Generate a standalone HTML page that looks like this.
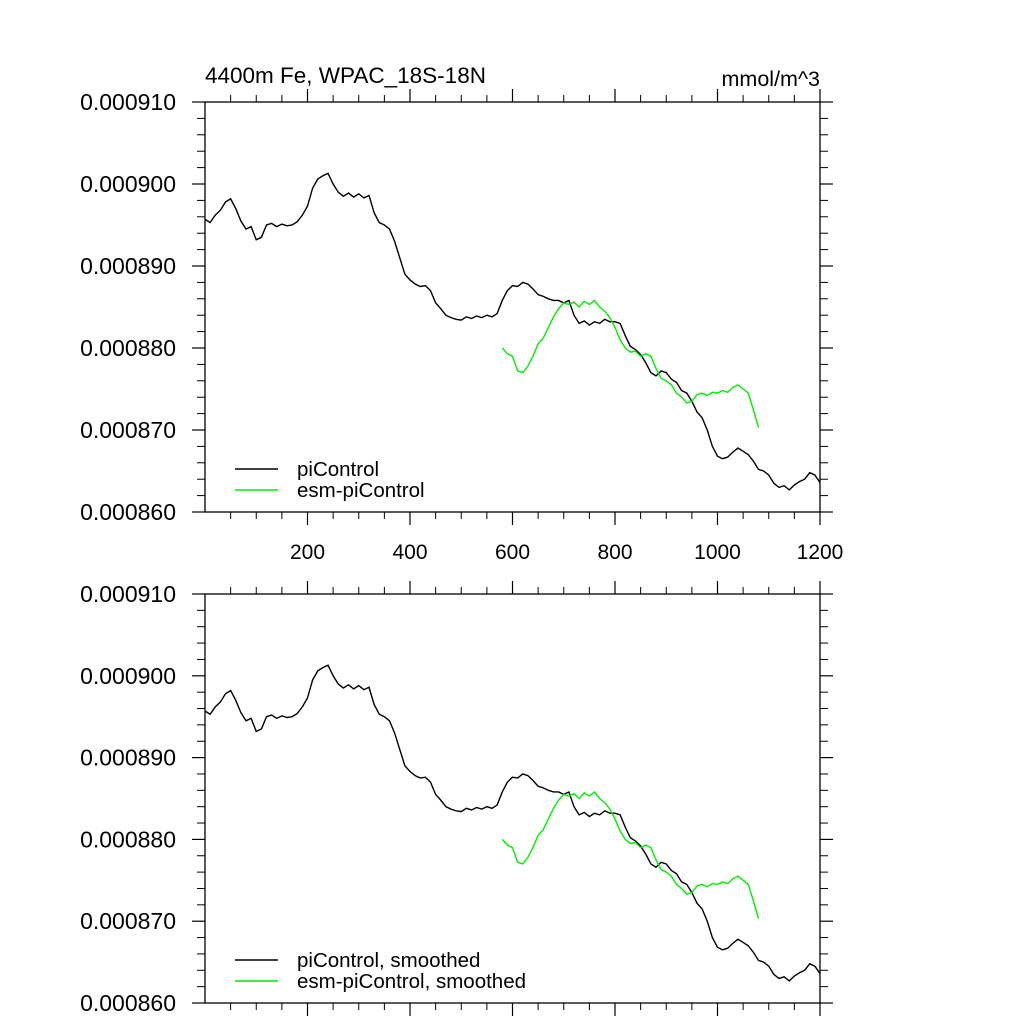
<!DOCTYPE html>
<html><head><meta charset="utf-8"><style>
html,body{margin:0;padding:0;background:#fff;}
svg{display:block;font-family:"Liberation Sans",sans-serif;}
</style></head><body>
<svg id="chart" width="1024" height="1024" viewBox="0 0 1024 1024" xmlns="http://www.w3.org/2000/svg">
<text x="205" y="83" font-size="22.5">4400m Fe, WPAC_18S-18N</text>
<text x="820" y="86" font-size="21.5" text-anchor="end">mmol/m^3</text>
</svg>
<script>
const piStartYear=0;
const piValues=[895.7,895.3,896.2,896.8,897.8,898.2,897.0,895.5,894.5,894.8,893.2,893.5,895.0,895.2,894.8,895.1,894.9,895.0,895.4,896.2,897.3,899.5,900.6,901.0,901.3,900.0,899.0,898.5,898.9,898.4,898.8,898.3,898.6,896.5,895.3,895.0,894.5,893.0,891.0,889.0,888.3,887.8,887.5,887.6,887.0,885.5,884.8,884.0,883.7,883.5,883.4,883.8,883.6,883.9,883.7,884.0,883.8,884.2,885.8,887.0,887.6,887.5,888.0,887.8,887.2,886.5,886.3,886.0,885.8,885.8,885.5,885.8,884.0,883.0,883.3,882.8,883.2,883.0,883.5,883.2,883.2,883.0,881.5,880.2,879.8,879.2,878.2,877.0,876.6,877.2,877.0,876.2,875.8,874.8,874.5,873.5,872.2,871.5,870.0,868.0,866.8,866.5,866.7,867.3,867.8,867.4,867.0,866.2,865.2,865.0,864.5,863.5,863.0,863.2,862.7,863.3,863.7,864.0,864.8,864.5,863.6];
const esmStartYear=580;
const esmValues=[880.0,879.3,879.0,877.2,877.0,877.8,879.0,880.5,881.2,882.5,883.8,884.8,885.5,885.3,885.6,885.0,885.7,885.3,885.8,885.0,884.5,883.7,882.5,881.0,880.0,879.5,879.6,879.0,879.3,879.0,877.5,876.3,876.0,875.5,874.5,874.0,873.3,873.5,874.3,874.5,874.2,874.6,874.5,874.8,874.6,875.2,875.5,875.0,874.5,872.5,870.3];
const yearStep=10;
const piSmoothValues=piValues.slice();
const esmSmoothValues=esmValues.slice();
const xTicks=[200,400,600,800,1000,1200];
const yTicks=[860,870,880,890,900,910];
const yTickLabels=["0.000860","0.000870","0.000880","0.000890","0.000900","0.000910"];

const svg=document.getElementById('chart');
const NS='http://www.w3.org/2000/svg';
function mk(tag,attrs){const e=document.createElementNS(NS,tag);for(const k in attrs)e.setAttribute(k,attrs[k]);svg.appendChild(e);return e;}
const L=205,R=820;
const xs=v=>L+(v/1200)*(R-L);

function panel(top,bottom,pv,ev,showX,legend,idx){
  const ys=v=>bottom-(v-860)/50*(bottom-top);
  for(let v=50;v<1200;v+=50){ if(v%200===0) continue;
    let l=mk('line',{x1:xs(v),x2:xs(v),y1:bottom,y2:bottom+7,stroke:'#000','stroke-width':1});
    
    l=mk('line',{x1:xs(v),x2:xs(v),y1:top-7,y2:top,stroke:'#000','stroke-width':1});
    
  }
  for(let v=862;v<910;v+=2){ if(v%10===0) continue;
    let l=mk('line',{x1:L-8,x2:L,y1:ys(v),y2:ys(v),stroke:'#000','stroke-width':1});
    
    l=mk('line',{x1:R,x2:R+8,y1:ys(v),y2:ys(v),stroke:'#000','stroke-width':1});
    
  }
  xTicks.forEach(v=>{
    let l=mk('line',{x1:xs(v),x2:xs(v),y1:bottom,y2:bottom+13,stroke:'#000','stroke-width':1.2});
    
    l=mk('line',{x1:xs(v),x2:xs(v),y1:top-13,y2:top,stroke:'#000','stroke-width':1.2});
    
    if(showX){const t=mk('text',{x:xs(v),y:bottom+47,'font-size':21,'text-anchor':'middle'});t.textContent=v;
      }
  });
  yTicks.forEach((v,i)=>{
    let l=mk('line',{x1:L-13,x2:L,y1:ys(v),y2:ys(v),stroke:'#000','stroke-width':1.2});
    
    l=mk('line',{x1:R,x2:R+13,y1:ys(v),y2:ys(v),stroke:'#000','stroke-width':1.2});
    
    const t=mk('text',{x:176,y:ys(v)+8,'font-size':23,'text-anchor':'end'});t.textContent=yTickLabels[i];
    
  });
  const f=mk('rect',{x:L,y:top,width:R-L,height:bottom-top,fill:'none',stroke:'#000','stroke-width':1.3});
  
  const pp=mk('polyline',{points:pv.map((v,i)=>xs(piStartYear+i*yearStep)+','+ys(v)).join(' '),fill:'none',stroke:'#000','stroke-width':1.4});
  
  const ep=mk('polyline',{points:ev.map((v,i)=>xs(esmStartYear+i*yearStep)+','+ys(v)).join(' '),fill:'none',stroke:'#00ee00','stroke-width':1.4});
  
  [[legend[0],'#000',bottom-43],[legend[1],'#00ee00',bottom-22]].forEach(([lab,c,y])=>{
    const l=mk('line',{x1:235,x2:278,y1:y,y2:y,stroke:c,'stroke-width':1.5});
    
    const t=mk('text',{x:297,y:y+7,'font-size':20.5});t.textContent=lab;
    
  });
}
panel(102,512,piValues,esmValues,true,['piControl','esm-piControl'],1);
panel(594,1003,piSmoothValues,esmSmoothValues,false,['piControl, smoothed','esm-piControl, smoothed'],2);
</script>
</body></html>
